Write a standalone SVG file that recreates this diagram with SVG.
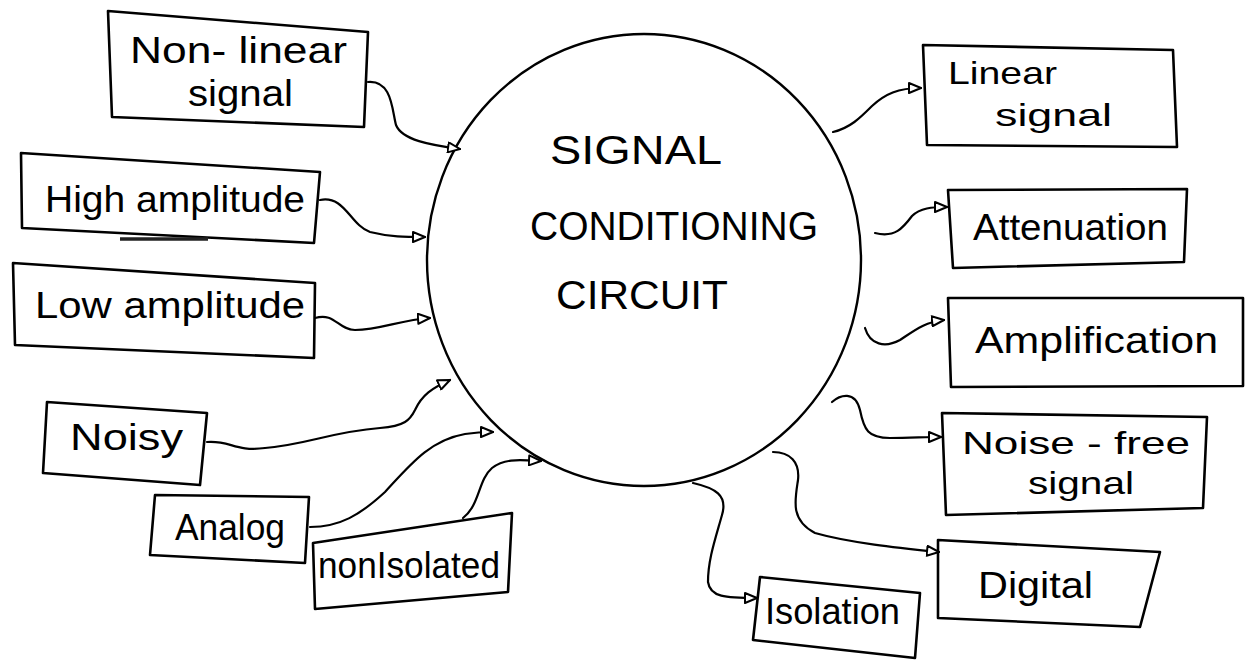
<svg xmlns="http://www.w3.org/2000/svg" width="1246" height="664" viewBox="0 0 1246 664">
<defs>
<marker id="arr" viewBox="0 0 14 12" refX="13" refY="6" markerWidth="14" markerHeight="12" markerUnits="userSpaceOnUse" orient="auto">
<path d="M1,1 L13,6 L1,11 Z" fill="#fff" stroke="#000" stroke-width="2" stroke-linejoin="round"/>
</marker>
</defs>
<style>
.box{fill:#fff;stroke:#000;stroke-width:2.6;stroke-linejoin:round}
.lbl{font-family:"Liberation Sans","DejaVu Sans",sans-serif;font-size:36px;fill:#000}
.sm{font-size:32px}
.big{font-family:"Liberation Sans","DejaVu Sans",sans-serif;font-size:40px;fill:#000}
.con{fill:none;stroke:#000;stroke-width:2.2;stroke-linecap:round;marker-end:url(#arr)}
</style>
<rect width="1246" height="664" fill="#fff"/>

<g id="circuit">
<ellipse cx="644" cy="260" rx="217" ry="226" fill="#fff" stroke="#000" stroke-width="2.4"/>
<text class="big" x="550" y="164" textLength="172" lengthAdjust="spacingAndGlyphs">SIGNAL</text>
<text class="big" x="530" y="240" textLength="288" lengthAdjust="spacingAndGlyphs">CONDITIONING</text>
<text class="big" x="556" y="309" textLength="172" lengthAdjust="spacingAndGlyphs">CIRCUIT</text>
</g>

<g id="nonlinear">
<polygon class="box" points="108,11 368,32 364,127 112,117"/>
<text class="lbl" x="130" y="63" textLength="217" lengthAdjust="spacingAndGlyphs">Non- linear</text>
<text class="lbl" x="188" y="106" textLength="105" lengthAdjust="spacingAndGlyphs">signal</text>
</g>

<g id="high">
<polygon class="box" points="21,153 320,172 314,243 22,228"/>
<text class="lbl" x="45" y="212" textLength="260" lengthAdjust="spacingAndGlyphs">High amplitude</text>
<line x1="120" y1="239" x2="208" y2="239" stroke="#222" stroke-width="3.5"/>
</g>

<g id="low">
<polygon class="box" points="13,263 315,283 314,358 15,345"/>
<text class="lbl" x="35" y="318" textLength="270" lengthAdjust="spacingAndGlyphs">Low amplitude</text>
</g>

<g id="noisy">
<polygon class="box" points="47,402 207,413 200,485 43,473"/>
<text class="lbl" x="70" y="450" textLength="113" lengthAdjust="spacingAndGlyphs">Noisy</text>
</g>

<g id="analog">
<polygon class="box" points="155,495 309,497 305,563 150,555"/>
<text class="lbl" x="175" y="540" textLength="110" lengthAdjust="spacingAndGlyphs">Analog</text>
</g>

<g id="nonisolated">
<polygon class="box" points="313,543 512,513 508,592 315,609"/>
<text class="lbl" x="318" y="578" textLength="182" lengthAdjust="spacingAndGlyphs">nonIsolated</text>
</g>

<g id="linear">
<polygon class="box" points="923,45 1173,50 1177,147 927,145"/>
<text class="lbl sm" x="948" y="84" textLength="109" lengthAdjust="spacingAndGlyphs">Linear</text>
<text class="lbl sm" x="995" y="126" textLength="117" lengthAdjust="spacingAndGlyphs">signal</text>
</g>

<g id="attenuation">
<polygon class="box" points="948,190 1187,189 1184,262 953,268"/>
<text class="lbl" x="973" y="240" textLength="195" lengthAdjust="spacingAndGlyphs">Attenuation</text>
</g>

<g id="amplification">
<polygon class="box" points="948,298 1243,298 1243,386 951,387"/>
<text class="lbl" x="975" y="353" textLength="243" lengthAdjust="spacingAndGlyphs">Amplification</text>
</g>

<g id="noisefree">
<polygon class="box" points="942,413 1207,417 1203,508 946,515"/>
<text class="lbl sm" x="962" y="454" textLength="228" lengthAdjust="spacingAndGlyphs">Noise - free</text>
<text class="lbl sm" x="1028" y="494" textLength="106" lengthAdjust="spacingAndGlyphs">signal</text>
</g>

<g id="digital">
<polygon class="box" points="938,540 1160,552 1140,627 938,618"/>
<text class="lbl" x="978" y="598" textLength="115" lengthAdjust="spacingAndGlyphs">Digital</text>
</g>

<g id="isolation">
<polygon class="box" points="760,577 920,593 915,658 753,640"/>
<text class="lbl" x="765" y="624" textLength="135" lengthAdjust="spacingAndGlyphs">Isolation</text>
</g>

<g id="connectors">
<path class="con" d="M368,82 C392,80 392,110 396,125 C402,140 430,145 460,149"/>
<path class="con" d="M320,200 C345,195 350,225 370,232 C390,237 405,237 425,237"/>
<path class="con" d="M315,318 C335,312 338,330 355,330 C380,330 400,320 430,318"/>
<path class="con" d="M207,442 C230,440 235,452 265,448 C310,444 330,432 380,428 C405,426 410,420 415,410 C422,395 432,388 450,380"/>
<path class="con" d="M310,527 C340,527 360,515 385,492 C410,465 430,440 465,434 C478,432 485,432 493,432"/>
<path class="con" d="M463,518 C480,505 478,480 492,468 C505,458 520,460 541,461"/>
<path class="con" d="M833,132 C850,128 860,118 872,106 C885,94 898,88 921,88"/>
<path class="con" d="M875,233 C895,238 903,228 912,216 C920,208 932,207 947,207"/>
<path class="con" d="M865,328 C870,345 885,348 900,340 C915,330 925,322 944,320"/>
<path class="con" d="M832,402 C840,395 855,390 860,410 C864,430 868,438 890,438 C910,438 925,437 941,437"/>
<path class="con" d="M773,452 C790,452 800,462 798,480 C795,500 790,520 815,533 C850,543 900,548 939,552"/>
<path class="con" d="M693,483 C715,488 728,495 722,515 C715,540 708,560 708,582 C710,597 725,598 757,598"/>
</g>
</svg>
